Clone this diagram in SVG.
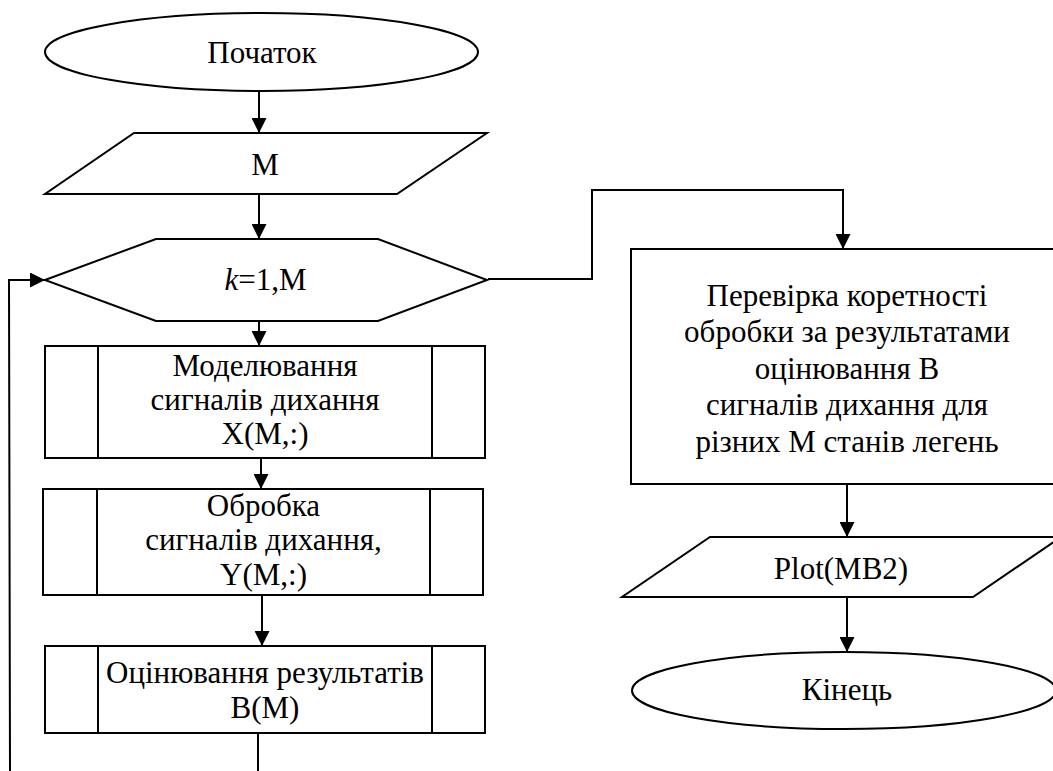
<svg xmlns="http://www.w3.org/2000/svg" width="1053" height="771" viewBox="0 0 1053 771">
<style>
.s{fill:#fff;stroke:#000;stroke-width:2}
.t{font-family:"Liberation Serif","Times New Roman",serif;font-size:31px;fill:#000;text-anchor:middle}
.c{fill:none;stroke:#000;stroke-width:2}
</style>
<defs>
<marker id="ah" markerWidth="15" markerHeight="15" refX="15" refY="7.5" orient="auto" markerUnits="userSpaceOnUse">
<path d="M0,0 L15,7.5 L0,15 Z" fill="#000"/>
</marker>
</defs>
<rect width="1053" height="771" fill="#fff"/>
<g id="connectors">
<line class="c" x1="259" y1="91" x2="259" y2="133" marker-end="url(#ah)"/>
<line class="c" x1="259" y1="194" x2="259" y2="239" marker-end="url(#ah)"/>
<line class="c" x1="259" y1="321" x2="259" y2="346" marker-end="url(#ah)"/>
<line class="c" x1="261" y1="458" x2="261" y2="489" marker-end="url(#ah)"/>
<line class="c" x1="262" y1="595" x2="262" y2="646" marker-end="url(#ah)"/>
<line class="c" x1="258" y1="733" x2="258" y2="771"/>
<polyline class="c" points="10,771 9,280 45,280" marker-end="url(#ah)"/>
<polyline class="c" points="488,279 592,279 592,190 843,190 843,249" marker-end="url(#ah)"/>
<line class="c" x1="847" y1="484" x2="847" y2="537" marker-end="url(#ah)"/>
<line class="c" x1="847" y1="597" x2="847" y2="652" marker-end="url(#ah)"/>
</g>
<g id="start">
<ellipse class="s" cx="261.5" cy="52" rx="216.5" ry="39"/>
<text class="t" x="262" y="63">Початок</text>
</g>
<g id="inputM">
<polygon class="s" points="134,133 487,133 397,194 45,194"/>
<text class="t" x="265" y="175">M</text>
</g>
<g id="loop">
<polygon class="s" points="45,280 156,239 378,239 487,280 378,321 156,321"/>
<text class="t" x="265.5" y="290"><tspan font-style="italic">k</tspan>=1,M</text>
</g>
<g id="model">
<rect class="s" x="45" y="346" width="440" height="112"/>
<line class="c" x1="98" y1="346" x2="98" y2="458"/>
<line class="c" x1="432" y1="346" x2="432" y2="458"/>
<text class="t" x="265" y="376">Моделювання</text>
<text class="t" x="265" y="410">сигналів дихання</text>
<text class="t" x="265" y="444">X(M,:)</text>
</g>
<g id="process">
<rect class="s" x="43" y="489" width="440" height="106"/>
<line class="c" x1="97" y1="489" x2="97" y2="595"/>
<line class="c" x1="430" y1="489" x2="430" y2="595"/>
<text class="t" x="263.5" y="516">Обробка</text>
<text class="t" x="263.5" y="550">сигналів дихання,</text>
<text class="t" x="263.5" y="585">Y(M,:)</text>
</g>
<g id="evaluate">
<rect class="s" x="45" y="646" width="440" height="87"/>
<line class="c" x1="98" y1="646" x2="98" y2="733"/>
<line class="c" x1="432" y1="646" x2="432" y2="733"/>
<text class="t" x="265" y="683">Оцінювання результатів</text>
<text class="t" x="265" y="718">B(M)</text>
</g>
<g id="check">
<rect class="s" x="631" y="249" width="425" height="235"/>
<text class="t" x="847" y="306">Перевірка коретності</text>
<text class="t" x="847" y="342">обробки за результатами</text>
<text class="t" x="847" y="379">оцінювання B</text>
<text class="t" x="847" y="415">сигналів дихання для</text>
<text class="t" x="847" y="452">різних M станів легень</text>
</g>
<g id="plot">
<polygon class="s" points="710,537 1061,537 973,597 622,597"/>
<text class="t" x="841" y="579">Plot(MB2)</text>
</g>
<g id="end">
<ellipse class="s" cx="844" cy="690.5" rx="212" ry="38.5"/>
<text class="t" x="847" y="700">Кінець</text>
</g>
</svg>
